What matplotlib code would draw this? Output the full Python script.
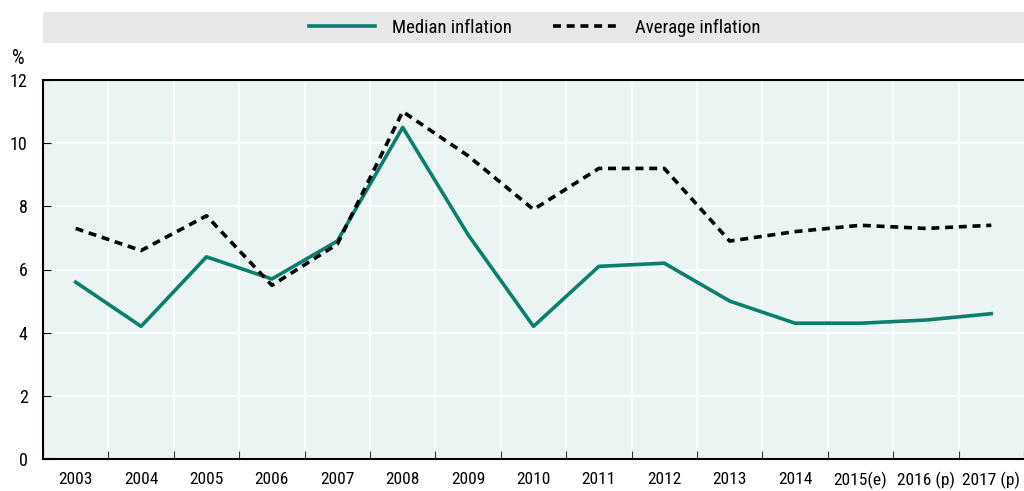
import numpy as np
import matplotlib.pyplot as plt
from matplotlib import font_manager
from matplotlib.lines import Line2D
from matplotlib.patches import Rectangle

years = ['2003', '2004', '2005', '2006', '2007', '2008', '2009', '2010',
         '2011', '2012', '2013', '2014', '2015(e)', '2016 (p)', '2017 (p)']
median_inflation = [5.6, 4.2, 6.4, 5.7, 6.9, 10.5, 7.1, 4.2, 6.1, 6.2, 5.0, 4.3, 4.3, 4.4, 4.6]
average_inflation = [7.3, 6.6, 7.7, 5.5, 6.8, 11.0, 9.6, 7.9, 9.2, 9.2, 6.9, 7.2, 7.4, 7.3, 7.4]
y_ticks = [0, 2, 4, 6, 8, 10, 12]

installed = {f.name for f in font_manager.fontManager.ttflist}
narrow = [n for n in ['Roboto Condensed', 'Liberation Sans Narrow', 'Open Sans Condensed',
                      'Noto Sans Condensed', 'DejaVu Sans Condensed'] if n in installed]
plt.rcParams['font.family'] = narrow + ['Liberation Sans', 'DejaVu Sans']

green = '#0B7F6E'
fig = plt.figure(figsize=(10.24, 4.91), dpi=100)
ax = fig.add_axes([43 / 1024, 1 - 459 / 491, 981 / 1024, 379 / 491])
ax.set_facecolor('#EAF4F2')

x = np.arange(len(years))
ax.plot(x, median_inflation, color=green, linewidth=2.6, label='Median inflation')
ax.plot(x, average_inflation, color='black', linewidth=2.6, linestyle=(0, (2.2, 1.6)),
        label='Average inflation')

ax.set_xlim(-0.5, len(years) - 0.5)
ax.set_ylim(0, 12)
ax.set_yticks(y_ticks)
ax.set_xticks(x)
ax.set_xticklabels(years)
ax.set_xticks(np.arange(len(years) + 1) - 0.5, minor=True)

# grid: horizontal at values, vertical at category boundaries
ax.grid(False)
for v in y_ticks[1:]:
    ax.axhline(v, color='white', linewidth=1.2, zorder=1)
for b in np.arange(1, len(years)) - 0.5:
    ax.axvline(b, color='white', linewidth=1.2, zorder=1)

ax.tick_params(axis='x', which='major', length=0, labelsize=12.5, pad=9)
ax.tick_params(axis='x', which='minor', direction='in', length=6, width=0.8, color='#333333')
ax.tick_params(axis='y', direction='in', length=6, width=0.8, labelsize=13, pad=11)

for side in ['left', 'bottom', 'top']:
    ax.spines[side].set_color('black')
ax.spines['left'].set_linewidth(1.5)
ax.spines['bottom'].set_linewidth(1.5)
ax.spines['top'].set_linewidth(1.5)
ax.spines['right'].set_visible(False)

fig.text(18 / 1024, 1 - 58 / 491, '%', fontsize=14.5, ha='center', va='center')

# legend band
fig.patches.append(Rectangle((43 / 1024, 1 - 43 / 491), 981 / 1024, 31 / 491,
                             transform=fig.transFigure, facecolor='#E6E7E9',
                             edgecolor='none', zorder=0))
handles = [Line2D([], [], color=green, linewidth=2.6),
           Line2D([], [], color='black', linewidth=2.6, linestyle=(0, (2.2, 1.6)))]
fig.legend(handles, ['Median inflation', 'Average inflation'], loc='center',
           bbox_to_anchor=(535 / 1024, 1 - 28 / 491), ncol=2, frameon=False,
           fontsize=13.5, handlelength=3.5, columnspacing=2.2, handletextpad=0.9)

fig.savefig('out.png', dpi=100)
